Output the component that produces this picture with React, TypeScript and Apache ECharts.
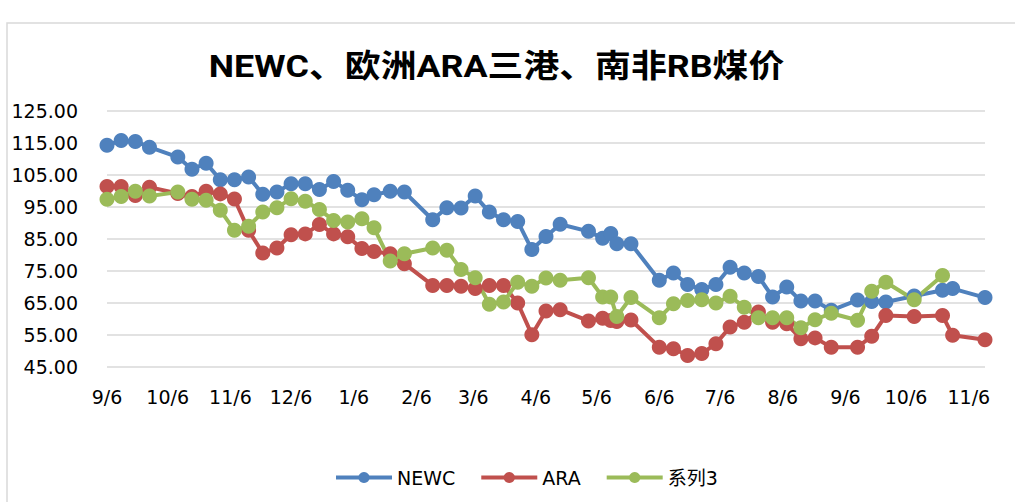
import React, { useEffect, useRef } from "react";
import * as echarts from "echarts";

const titleText = "NEWC、欧洲ARA三港、南非RB煤价";
const seriesNames = ["NEWC", "ARA", "系列3"];
const seriesColors = ["#4F81BD", "#C0504D", "#9BBB59"];

const dates = [
  "2018-09-06", "2018-09-13", "2018-09-20", "2018-09-27", "2018-10-11", "2018-10-18", "2018-10-25",
  "2018-11-01", "2018-11-08", "2018-11-15", "2018-11-22", "2018-11-29", "2018-12-06", "2018-12-13",
  "2018-12-20", "2018-12-27", "2019-01-03", "2019-01-10", "2019-01-16", "2019-01-24", "2019-01-31",
  "2019-02-14", "2019-02-21", "2019-02-28", "2019-03-07", "2019-03-14", "2019-03-21", "2019-03-28",
  "2019-04-04", "2019-04-11", "2019-04-18", "2019-05-02", "2019-05-09", "2019-05-13", "2019-05-16",
  "2019-05-23", "2019-06-06", "2019-06-13", "2019-06-20", "2019-06-27", "2019-07-04", "2019-07-11",
  "2019-07-18", "2019-07-25", "2019-08-01", "2019-08-08", "2019-08-15", "2019-08-22", "2019-08-30",
  "2019-09-12", "2019-09-19", "2019-09-26", "2019-10-10", "2019-10-24", "2019-10-29", "2019-11-14",
];

const newc = [
  114.3, 115.8, 115.5, 113.7, 110.6, 106.8, 108.7, 103.5, 103.5, 104.4, 99.0, 99.7, 102.3, 102.3,
  100.5, 103.0, 100.2, 97.3, 98.8, 99.9, 99.7, 91.0, 94.8, 94.7, 98.4, 93.4, 91.0, 90.5,
  81.7, 85.8, 89.6, 87.4, 85.2, 86.7, 83.5, 83.5, 72.1, 74.4, 70.8, 69.2, 70.8, 76.2,
  74.4, 73.3, 66.9, 70.0, 65.6, 65.6, 62.7, 65.9, 65.5, 65.3, 67.2, 69.0, 69.5, 66.7,
];

const ara = [
  101.4, 101.4, 98.6, 101.2, 99.2, 98.3, 99.9, 99.1, 97.5, 87.7, 80.6, 82.2, 86.3, 86.6,
  89.5, 86.6, 85.7, 82.0, 81.1, 80.4, 77.3, 70.5, 70.5, 70.2, 69.5, 70.5, 70.5, 65.0,
  55.1, 62.5, 62.9, 59.4, 60.2, 59.5, 59.2, 59.7, 51.2, 50.7, 48.6, 49.2, 52.3, 57.5,
  59.0, 62.2, 59.0, 58.5, 53.8, 54.1, 51.2, 51.2, 54.6, 61.1, 60.8, 61.1, 54.9, 53.5,
];

const rb: (number | null)[] = [
  97.4, 98.3, 99.9, 98.4, 99.7, 97.4, 97.1, 94.0, 87.7, 89.0, 93.4, 94.8, 97.6, 96.8,
  94.2, 90.8, 90.3, 91.3, 88.5, 78.1, 80.4, 82.2, 81.5, 75.5, 72.9, 64.6, 65.3, 71.5,
  70.2, 72.8, 72.1, 72.9, 66.9, 66.9, 60.8, 66.7, 60.4, 64.8, 65.8, 66.0, 65.0, 67.1,
  63.7, 60.4, 60.4, 60.4, 57.3, 59.8, 61.8, 59.6, 68.7, 71.5, 66.0, 73.6, null, null,
];

const xTickDates = [
  "2018-09-06", "2018-10-06", "2018-11-06", "2018-12-06", "2019-01-06", "2019-02-06", "2019-03-06",
  "2019-04-06", "2019-05-06", "2019-06-06", "2019-07-06", "2019-08-06", "2019-09-06", "2019-10-06",
  "2019-11-06",
];

const xMin = "2018-09-06";
const xMax = "2019-11-14";
const yMin = 45;
const yMax = 125;
const yStep = 10;

const LATIN = "'DejaVu Sans', 'Noto Sans CJK SC', sans-serif";

export default function App() {
  const ref = useRef<HTMLDivElement>(null);
  useEffect(() => {
    if (!ref.current) return;
    const chart = echarts.init(ref.current, undefined, { renderer: "svg" });
    const toTs = (s: string) => echarts.number.parseDate(s).getTime();
    const allSeries = [newc, ara, rb];
    const option: any = {
      animation: false,
      backgroundColor: "#ffffff",
      graphic: [
        {
          type: "rect",
          silent: true,
          z: 0,
          shape: { x: 7, y: 23, width: 1100, height: 600 },
          style: { fill: "none", stroke: "#D9D9D9", lineWidth: 1.5 },
        },
        {
          type: "text",
          x: 496.5,
          y: 66,
          scaleX: 1.12,
          style: {
            text: titleText,
            fontSize: 32,
            fontWeight: "bold",
            fontFamily: "Roboto, 'Noto Sans CJK SC', sans-serif",
            fill: "#000000",
            align: "center",
            verticalAlign: "middle",
          },
        },
      ],
      grid: { left: 107, right: 30, top: 111, bottom: 135, containLabel: false },
      legend: {
        data: seriesNames,
        left: 329,
        top: 463,
        itemWidth: 56,
        itemHeight: 14,
        itemGap: 24,
        lineStyle: { width: 4 },
        textStyle: { fontSize: 19, fontFamily: LATIN, color: "#000000" },
      },
      xAxis: {
        type: "value",
        min: toTs(xMin),
        max: toTs(xMax),
        axisLine: { show: false },
        axisTick: { show: false },
        splitLine: { show: false },
        axisLabel: {
          customValues: xTickDates.map(toTs),
          formatter: (v: number) => {
            const d = new Date(v);
            return `${d.getMonth() + 1}/${d.getDate()}`;
          },
          fontSize: 19,
          fontFamily: LATIN,
          color: "#000000",
          margin: 20,
          showMinLabel: true,
          showMaxLabel: true,
        },
      },
      yAxis: {
        type: "value",
        min: yMin,
        max: yMax,
        interval: yStep,
        axisLine: { show: false },
        axisTick: { show: false },
        splitLine: { lineStyle: { color: "#D9D9D9", width: 1.5 } },
        axisLabel: {
          formatter: (v: number) => v.toFixed(2),
          fontSize: 19,
          fontFamily: LATIN,
          color: "#000000",
          margin: 29,
        },
      },
      series: seriesNames.map((name, i) => ({
        name,
        type: "line",
        data: dates.map((d, j) => [toTs(d), allSeries[i][j]]),
        connectNulls: false,
        symbol: "circle",
        symbolSize: 15,
        showSymbol: true,
        lineStyle: { color: seriesColors[i], width: 4 },
        itemStyle: { color: seriesColors[i], borderWidth: 0 },
        emphasis: { disabled: true },
      })),
    };
    chart.setOption(option);
    return () => chart.dispose();
  }, []);
  return (
    <div
      ref={ref}
      style={{ position: "fixed", left: 0, top: 0, width: 1015, height: 502 }}
    />
  );
}
